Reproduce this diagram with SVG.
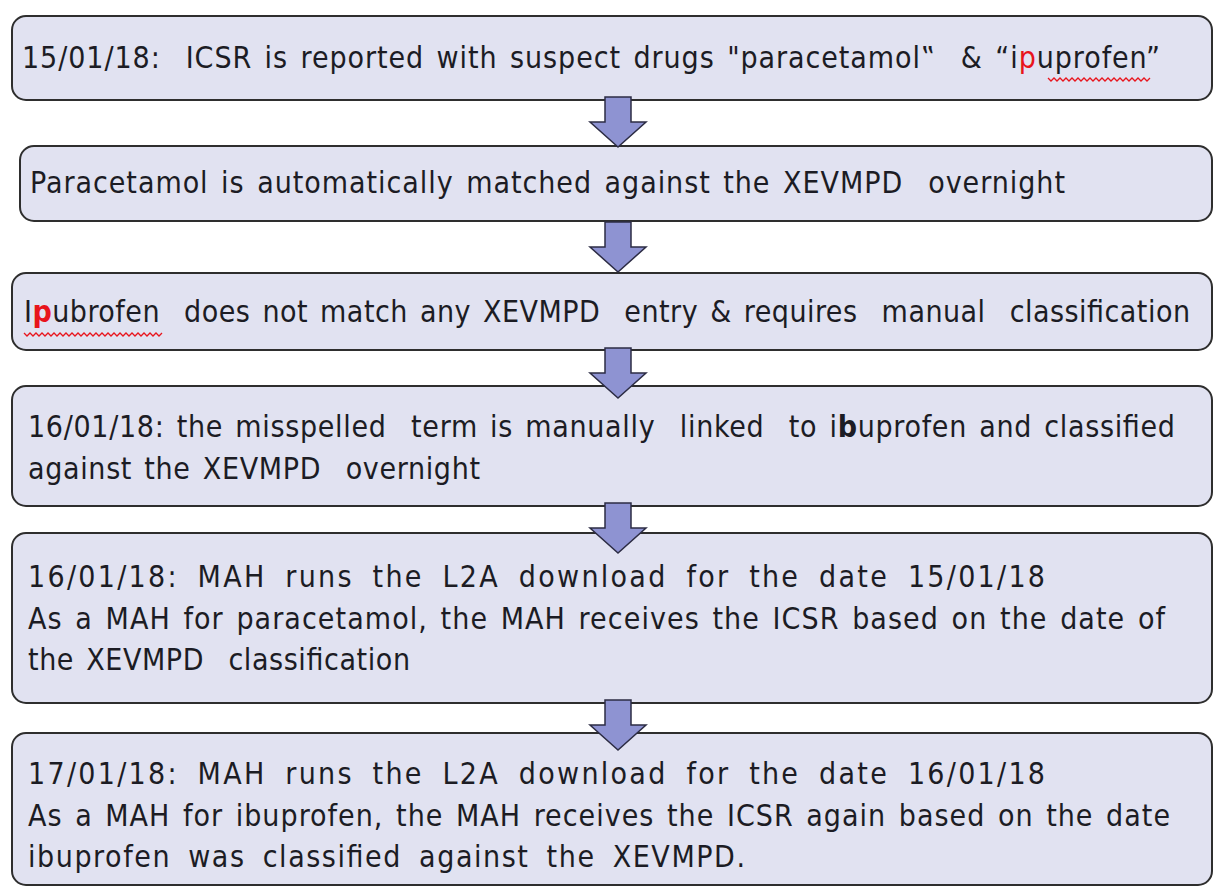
<svg xmlns="http://www.w3.org/2000/svg" width="1217" height="893" viewBox="0 0 1217 893">
<style>
.box{fill:#e1e2f1;stroke:#2e2e2e;stroke-width:2}
.t{font-family:"DejaVu Sans Condensed","DejaVu Sans",Verdana,sans-serif;font-stretch:condensed;font-size:30px;fill:#1c1c24;word-spacing:3px}
.arr{fill:#8e93d2;stroke:#2c2c44;stroke-width:1.5;stroke-linejoin:miter}
.red{fill:#e8141c}
.sq{fill:none;stroke:#e8141c;stroke-width:1.3}
</style>
<defs>
<path id="ar" d="M-13,0 L13,0 L13,25 L28,25 L0,50 L-28,25 L-13,25 Z"/>
</defs>
<rect width="1217" height="893" fill="#ffffff"/>
<g id="n1">
<rect class="box" x="12" y="16" width="1200" height="84" rx="14"/>
<text class="t" x="22" y="68" textLength="1138" lengthAdjust="spacing" xml:space="preserve">15/01/18:  ICSR is reported with suspect drugs "paracetamol‟  &amp; “i<tspan class="red">p</tspan>uprofen”</text>
<path class="sq" d="M1048,78 l3,3 l3,-3 l3,3 l3,-3 l3,3 l3,-3 l3,3 l3,-3 l3,3 l3,-3 l3,3 l3,-3 l3,3 l3,-3 l3,3 l3,-3 l3,3 l3,-3 l3,3 l3,-3 l3,3 l3,-3 l3,3 l3,-3 l3,3 l3,-3 l3,3 l3,-3 l3,3 l3,-3 l3,3 l3,-3 l3,3 l3,-3"/>
</g>
<g id="n2">
<rect class="box" x="20" y="146" width="1192" height="75" rx="14"/>
<text class="t" x="30" y="193" textLength="1035" lengthAdjust="spacing" xml:space="preserve">Paracetamol is automatically matched against the XEVMPD  overnight</text>
</g>
<g id="n3">
<rect class="box" x="12" y="273" width="1200" height="77" rx="14"/>
<text class="t" x="24" y="322" textLength="1166" lengthAdjust="spacing" xml:space="preserve">I<tspan class="red" font-weight="bold">p</tspan>ubrofen  does not match any XEVMPD  entry &amp; requires  manual  classification</text>
<path class="sq" d="M24,333 l3,3 l3,-3 l3,3 l3,-3 l3,3 l3,-3 l3,3 l3,-3 l3,3 l3,-3 l3,3 l3,-3 l3,3 l3,-3 l3,3 l3,-3 l3,3 l3,-3 l3,3 l3,-3 l3,3 l3,-3 l3,3 l3,-3 l3,3 l3,-3 l3,3 l3,-3 l3,3 l3,-3 l3,3 l3,-3 l3,3 l3,-3 l3,3 l3,-3 l3,3 l3,-3 l3,3 l3,-3 l3,3 l3,-3 l3,3 l3,-3 l3,3 l3,-3"/>
</g>
<g id="n4">
<rect class="box" x="12" y="386" width="1200" height="120" rx="14"/>
<text class="t" x="28" y="437" textLength="1147" lengthAdjust="spacing" xml:space="preserve">16/01/18: the misspelled  term is manually  linked  to i<tspan font-weight="bold">b</tspan>uprofen and classified</text>
<text class="t" x="28" y="479" textLength="452" lengthAdjust="spacing" xml:space="preserve">against the XEVMPD  overnight</text>
</g>
<g id="n5">
<rect class="box" x="12" y="533" width="1200" height="170" rx="14"/>
<text class="t" x="28" y="587" textLength="1017" lengthAdjust="spacing" style="word-spacing:8px">16/01/18: MAH runs the L2A download for the date 15/01/18</text>
<text class="t" x="28" y="629" textLength="1137" lengthAdjust="spacing">As a MAH for paracetamol, the MAH receives the ICSR based on the date of</text>
<text class="t" x="28" y="670" textLength="382" lengthAdjust="spacing" xml:space="preserve">the XEVMPD  classification</text>
</g>
<g id="n6">
<rect class="box" x="12" y="733" width="1200" height="152" rx="14"/>
<text class="t" x="28" y="784" textLength="1017" lengthAdjust="spacing" style="word-spacing:8px">17/01/18: MAH runs the L2A download for the date 16/01/18</text>
<text class="t" x="28" y="826" textLength="1142" lengthAdjust="spacing">As a MAH for ibuprofen, the MAH receives the ICSR again based on the date</text>
<text class="t" x="28" y="867" textLength="717" lengthAdjust="spacing" style="word-spacing:7px">ibuprofen was classified against the XEVMPD.</text>
</g>
<g id="connectors">
<use href="#ar" class="arr" transform="translate(618,97)"/>
<use href="#ar" class="arr" transform="translate(618,222)"/>
<use href="#ar" class="arr" transform="translate(618,348)"/>
<use href="#ar" class="arr" transform="translate(618,503)"/>
<use href="#ar" class="arr" transform="translate(618,700)"/>
</g>
</svg>
